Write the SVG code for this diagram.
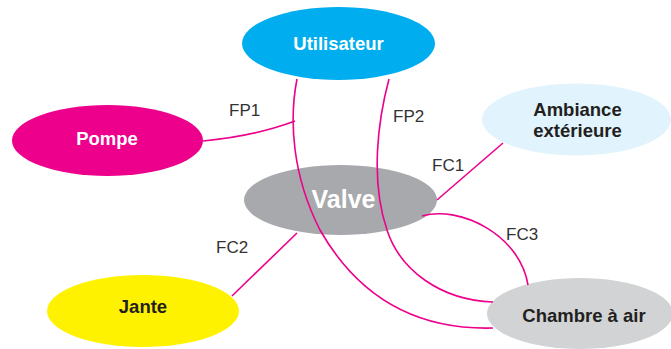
<svg xmlns="http://www.w3.org/2000/svg" width="671" height="349" viewBox="0 0 671 349">
  <style>
    .node-label { font-family: "Liberation Sans", Arial, sans-serif; font-weight: bold; font-size: 18.5px; text-anchor: middle; }
    .light { fill: #ffffff; }
    .dark { fill: #231f20; }
    .edge { fill: none; stroke: #ec008c; stroke-width: 1.6; }
    .edge-label { font-family: "Liberation Sans", Arial, sans-serif; font-size: 17px; fill: #333333; }
  </style>
  <rect width="671" height="349" fill="#ffffff"/>

  <g id="utilisateur">
    <ellipse cx="338.5" cy="43.5" rx="96.5" ry="36.5" fill="#00aeef"/>
    <text class="node-label light" x="338.5" y="50">Utilisateur</text>
  </g>
  <g id="pompe">
    <ellipse cx="107.5" cy="140.5" rx="95.5" ry="35.5" fill="#ec008c"/>
    <text class="node-label light" x="107" y="144.5">Pompe</text>
  </g>
  <g id="ambiance">
    <ellipse cx="576.5" cy="119.5" rx="94.5" ry="36" fill="#e1f3fc"/>
    <text class="node-label dark" x="577.5" y="116">Ambiance</text>
    <text class="node-label dark" x="577.5" y="137">extérieure</text>
  </g>
  <g id="valve">
    <ellipse cx="340.5" cy="200" rx="96.5" ry="35" fill="#a7a9ac"/>
    <text class="node-label light" x="343.5" y="208" style="font-size:25px">Valve</text>
  </g>
  <g id="jante">
    <ellipse cx="143" cy="311" rx="96" ry="36" fill="#fff200"/>
    <text class="node-label dark" x="143" y="313">Jante</text>
  </g>
  <g id="chambre">
    <ellipse cx="580" cy="313.5" rx="93" ry="35.5" fill="#d1d3d4"/>
    <text class="node-label dark" x="584" y="322">Chambre à air</text>
  </g>

  <g id="connectors">
    <!-- FP1: Utilisateur to Chambre à air, with Pompe joining it -->
    <path class="edge" d="M297,79 C289,120 292,175 320,230 C360,300 420,330 493,328"/>
    <path class="edge" d="M203,141 Q255,136 295,121"/>
    <!-- FP2: Utilisateur to Chambre à air -->
    <path class="edge" d="M389,79 C378,120 370,180 387,230 C400,270 440,300 493,302"/>
    <!-- FC1: Valve to Ambiance extérieure -->
    <path class="edge" d="M437,200 L503,143"/>
    <!-- FC2: Valve to Jante -->
    <path class="edge" d="M232,296 L297,233"/>
    <!-- FC3: Valve to Chambre à air -->
    <path class="edge" d="M422,216 C460,205 520,235 528,285"/>
  </g>

  <g id="labels">
    <text class="edge-label" x="229" y="116">FP1</text>
    <text class="edge-label" x="393" y="122">FP2</text>
    <text class="edge-label" x="432" y="171">FC1</text>
    <text class="edge-label" x="216" y="253">FC2</text>
    <text class="edge-label" x="506" y="240">FC3</text>
  </g>
</svg>
